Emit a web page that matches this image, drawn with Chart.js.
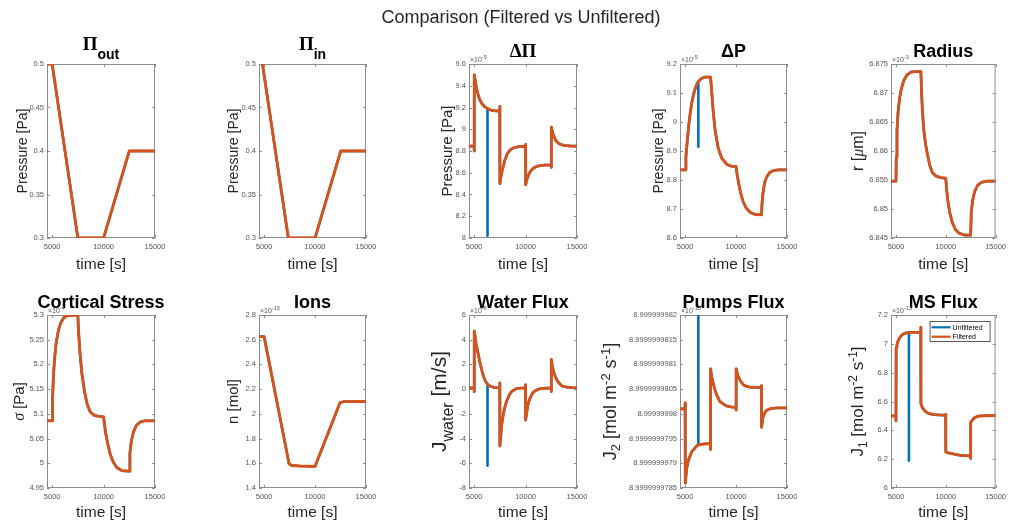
<!DOCTYPE html>
<html>
<head>
<meta charset="utf-8">
<script src="https://cdn.jsdelivr.net/npm/chart.js@4.4.0/dist/chart.umd.min.js"></script>
<style>
  html, body { margin: 0; padding: 0; background: #ffffff; }
  #fig { position: relative; width: 1010px; height: 525px; overflow: hidden; background: #ffffff; }
  #fig canvas { position: absolute; left: 0; top: 0; }
</style>
</head>
<body>
<div id="fig"></div>
<script>
// ---------------- data ----------------
const timeTicks = ['5000', '10000', '15000'];
const timeMin = 4500, timeMax = 15000;

// Osmotic pressure outside
const piOutT = [4500, 5000, 7500, 10000, 12500, 15000];
const piOutV = [0.5, 0.5, 0.3, 0.3, 0.4, 0.4];
const piOutTicks = ['0.3', '0.35', '0.4', '0.45', '0.5'];

// Osmotic pressure inside
const piInT = [4840, 7380, 10000, 12520, 15000];
const piInV = [0.5, 0.3, 0.3, 0.4, 0.4];
const piInTicks = ['0.3', '0.35', '0.4', '0.45', '0.5'];

// Osmotic pressure difference (x1e-5)
const dPiT = [4500, 4990, 5000, 5020, 5100, 5200, 5350, 5550, 5800, 6050, 6300, 6600, 7000, 7485, 7495, 7510, 7580, 7680, 7830, 8000, 8200, 8450, 8750, 9150, 9600, 9990, 10000, 10020, 10100, 10250, 10450, 10700, 11000, 11400, 11900, 12485, 12495, 12510, 12600, 12750, 12950, 13200, 13500, 13900, 14400, 15000];
const dPiV = [8.845, 8.845, 8.80, 9.50, 9.45, 9.39, 9.33, 9.27, 9.23, 9.205, 9.19, 9.177, 9.17, 9.167, 9.21, 8.50, 8.55, 8.60, 8.66, 8.72, 8.77, 8.805, 8.826, 8.837, 8.842, 8.843, 8.86, 8.49, 8.53, 8.57, 8.61, 8.638, 8.655, 8.666, 8.671, 8.673, 8.65, 9.02, 8.98, 8.935, 8.895, 8.87, 8.857, 8.849, 8.846, 8.845];
const dPiSpikeT = [6300, 6300, 6300];
const dPiSpikeV = [9.19, 8.02, 9.19];
const dPiTicks = ['8', '8.2', '8.4', '8.6', '8.8', '9', '9.2', '9.4', '9.6'];

// Hydrostatic pressure difference (x1e-5)
const dPT = [4500, 5000, 5080, 5200, 5350, 5500, 5700, 5900, 6150, 6300, 6600, 7000, 7500, 7600, 7750, 7950, 8250, 8600, 9100, 9500, 10000, 10100, 10250, 10450, 10700, 11000, 11400, 11900, 12500, 12550, 12650, 12800, 13000, 13300, 13700, 14200, 15000];
const dPV = [8.835, 8.835, 8.88, 8.93, 8.985, 9.03, 9.075, 9.105, 9.13, 9.14, 9.15, 9.155, 9.155, 9.11, 9.04, 8.97, 8.91, 8.875, 8.854, 8.848, 8.846, 8.82, 8.79, 8.755, 8.725, 8.703, 8.688, 8.681, 8.68, 8.72, 8.757, 8.79, 8.81, 8.826, 8.833, 8.835, 8.835];
const dPSpikeT = [6300, 6300, 6300];
const dPSpikeV = [9.14, 8.915, 9.14];
const dPTicks = ['8.6', '8.7', '8.8', '8.9', '9', '9.1', '9.2'];

// Radius (x1e-3)
const radT = [4500, 5000, 5030, 5100, 5200, 5350, 5550, 5800, 6100, 6500, 7000, 7500, 7560, 7650, 7800, 7970, 8150, 8400, 8650, 9000, 9500, 10000, 10080, 10200, 10400, 10650, 10950, 11350, 11900, 12500, 12560, 12700, 12900, 13200, 13600, 14100, 15000];
const radV = [6.8548, 6.8548, 6.859, 6.8635, 6.8665, 6.869, 6.8708, 6.8722, 6.8731, 6.8736, 6.8737, 6.8737, 6.8705, 6.867, 6.8635, 6.8612, 6.8595, 6.8575, 6.8563, 6.8557, 6.8554, 6.8553, 6.8535, 6.8515, 6.8494, 6.8477, 6.8465, 6.8458, 6.8455, 6.8455, 6.8495, 6.8515, 6.853, 6.8541, 6.8546, 6.8548, 6.8548];
const radTicks = ['6.845', '6.85', '6.855', '6.86', '6.865', '6.87', '6.875'];

// Cortical stress (x1e-4)
const stressT = [4500, 5000, 5040, 5120, 5250, 5400, 5600, 5850, 6150, 6500, 7000, 7500, 7560, 7700, 7900, 8150, 8400, 8700, 9100, 9500, 10000, 10080, 10200, 10400, 10650, 10950, 11300, 11800, 12500, 12560, 12700, 12900, 13200, 13600, 14000, 15000];
const stressV = [5.086, 5.086, 5.13, 5.175, 5.215, 5.245, 5.268, 5.285, 5.295, 5.299, 5.2995, 5.2995, 5.27, 5.225, 5.18, 5.145, 5.12, 5.104, 5.097, 5.095, 5.094, 5.08, 5.062, 5.04, 5.018, 5.002, 4.991, 4.985, 4.984, 5.02, 5.045, 5.063, 5.077, 5.084, 5.086, 5.086];
const stressTicks = ['4.95', '5', '5.05', '5.1', '5.15', '5.2', '5.25', '5.3'];

// Ions (x1e-13)
const ionT = [4500, 5000, 7450, 7700, 8500, 10000, 12450, 12800, 15000];
const ionV = [2.625, 2.625, 1.597, 1.582, 1.578, 1.575, 2.09, 2.099, 2.1];
const ionTicks = ['1.4', '1.6', '1.8', '2', '2.2', '2.4', '2.6', '2.8'];

// Water flux (x1e-8)
const waterT = [4500, 4990, 5000, 5020, 5100, 5200, 5380, 5550, 5700, 5850, 6030, 6200, 6300, 6360, 6600, 7000, 7485, 7495, 7510, 7580, 7660, 7770, 7890, 8020, 8150, 8400, 8640, 9130, 9600, 9985, 9995, 10010, 10100, 10200, 10320, 10440, 10600, 10760, 11000, 11250, 11700, 12060, 12485, 12495, 12510, 12600, 12720, 12870, 13040, 13250, 13530, 14020, 14500, 15000];
const waterV = [0.1, 0.1, -0.2, 4.7, 4.2, 3.6, 2.9, 2.2, 1.69, 1.2, 0.75, 0.5, 0.42, 0.35, 0.22, 0.13, 0.1, 0.5, -4.6, -3.9, -3.0, -2.35, -1.8, -1.35, -1.0, -0.5, -0.19, 0.05, 0.09, 0.1, 0.35, -2.5, -1.95, -1.4, -1.0, -0.73, -0.45, -0.25, -0.1, 0.0, 0.06, 0.08, 0.1, -0.2, 2.4, 1.9, 1.42, 1.05, 0.75, 0.5, 0.26, 0.16, 0.12, 0.1];
const waterSpikeT = [6300, 6300, 6300];
const waterSpikeV = [0.42, -6.2, 0.42];
const waterTicks = ['-8', '-6', '-4', '-2', '0', '2', '4', '6'];

// Pumps flux (x1e-13)
const pumpT = [4500, 4990, 5000, 5020, 5150, 5320, 5640, 6130, 6300, 6790, 7485, 7495, 7505, 7600, 7760, 7920, 8090, 8410, 8750, 9070, 9500, 9990, 10000, 10010, 10150, 10370, 10700, 11000, 11350, 12485, 12495, 12505, 12650, 12800, 12980, 13200, 13470, 14000, 15000];
const pumpV = [8.9999999801, 8.9999999801, 8.99999998022, 8.9999999786, 8.99999997889, 8.99999997906, 8.99999997923, 8.99999997935, 8.99999997937, 8.99999997939, 8.9999999794, 8.99999997928, 8.99999998091, 8.99999998076, 8.99999998062, 8.99999998049, 8.99999998039, 8.99999998025, 8.9999999802, 8.99999998016, 8.99999998014, 8.99999998013, 8.99999998008, 8.99999998091, 8.99999998079, 8.99999998069, 8.99999998059, 8.99999998056, 8.99999998054, 8.99999998053, 8.99999998057, 8.99999997973, 8.99999997994, 8.99999998001, 8.99999998007, 8.99999998009, 8.99999998011, 8.99999998012, 8.99999998012];
const pumpSpikeT = [6300, 6300, 6300];
const pumpSpikeV = [8.99999997937, 8.99999998198, 8.99999997937];
const pumpTicks = ['8.9999999785', '8.999999979', '8.9999999795', '8.99999998', '8.9999999805', '8.999999981', '8.9999999815', '8.999999982'];

// Mechanosensitive flux (x1e-13)
const msT = [4500, 4990, 5000, 5020, 5100, 5210, 5350, 5540, 5800, 6020, 6300, 6670, 7485, 7495, 7510, 7600, 7700, 7830, 7970, 8200, 8450, 8850, 9260, 9985, 9995, 10010, 10150, 10390, 10650, 10880, 11200, 11530, 12000, 12340, 12485, 12495, 12510, 12650, 12830, 13050, 13310, 13800, 15000];
const msV = [6.5, 6.5, 6.465, 6.975, 6.995, 7.02, 7.04, 7.058, 7.07, 7.076, 7.078, 7.08, 7.08, 7.115, 6.585, 6.565, 6.553, 6.54, 6.53, 6.52, 6.514, 6.509, 6.507, 6.505, 6.51, 6.25, 6.245, 6.242, 6.238, 6.235, 6.23, 6.226, 6.224, 6.223, 6.222, 6.205, 6.455, 6.47, 6.484, 6.493, 6.499, 6.501, 6.502];
const msSpikeT = [6300, 6300, 6300];
const msSpikeV = [7.078, 6.19, 7.078];
const msTicks = ['6', '6.2', '6.4', '6.6', '6.8', '7', '7.2'];

const seriesNames = ['Unfiltered', 'Filtered'];

// ---------------- styling / layout ----------------
const SANS = '"Liberation Sans", Arial, Helvetica, sans-serif';
const SERIF = '"Liberation Serif", "Times New Roman", serif';
const BLUE = '#0072BD';
const ORANGE = '#D95319';
const AXIS_GREY = '#8c8c8c';
const TICK_TEXT = '#555555';
const LABEL_TEXT = '#262626';
const W = 1010, H = 525;
const COLS = [[47, 155], [259, 366], [469, 577], [680, 787], [891, 999]];
const ROWS = [[64, 238], [315, 488]];
const XH = 16;

function run(text, font, dy) { return { text: text, font: font, dy: dy || 0 }; }

function jLabel(sub, big, small) {
  return [
    run('J', big + 'px ' + SANS),
    run(sub, small + 'px ' + SANS, 4),
    run(' [mol m', big + 'px ' + SANS),
    run('-2', small + 'px ' + SANS, -6),
    run(' s', big + 'px ' + SANS),
    run('-1', small + 'px ' + SANS, -6),
    run(']', big + 'px ' + SANS)
  ];
}

const panels = [
  { col: 0, row: 0, t: piOutT, v: piOutV, ticks: piOutTicks, exp: null,
    title: [run('\u03A0', 'bold 19px ' + SERIF), run('out', 'bold 14px ' + SANS, 9)], sub: true,
    ylabel: [run('Pressure [Pa]', '14px ' + SANS)], yOff: 20, mainTitle: true },
  { col: 1, row: 0, t: piInT, v: piInV, ticks: piInTicks, exp: null,
    title: [run('\u03A0', 'bold 19px ' + SERIF), run('in', 'bold 14px ' + SANS, 9)], sub: true,
    ylabel: [run('Pressure [Pa]', '14px ' + SANS)], yOff: 21.5 },
  { col: 2, row: 0, t: dPiT, v: dPiV, spikeT: dPiSpikeT, spikeV: dPiSpikeV, ticks: dPiTicks, exp: '-5',
    title: [run('\u0394\u03A0', 'bold 19px ' + SERIF)],
    ylabel: [run('Pressure [Pa]', '15px ' + SANS)], yOff: 17 },
  { col: 3, row: 0, t: dPT, v: dPV, spikeT: dPSpikeT, spikeV: dPSpikeV, ticks: dPTicks, exp: '-5',
    title: [run('\u0394P', 'bold 18px ' + SANS)],
    ylabel: [run('Pressure [Pa]', '14px ' + SANS)], yOff: 17.5 },
  { col: 4, row: 0, t: radT, v: radV, ticks: radTicks, exp: '-3',
    title: [run('Radius', 'bold 18px ' + SANS)],
    ylabel: [run('r [', '16px ' + SANS), run('\u03BC', 'italic 16px ' + SERIF), run('m]', '16px ' + SANS)], yOff: 28 },
  { col: 0, row: 1, t: stressT, v: stressV, ticks: stressTicks, exp: '-4',
    title: [run('Cortical Stress', 'bold 18px ' + SANS)],
    ylabel: [run('\u03C3', 'italic 16px ' + SERIF), run(' [Pa]', '15px ' + SANS)], yOff: 23.5 },
  { col: 1, row: 1, t: ionT, v: ionV, ticks: ionTicks, exp: '-13',
    title: [run('Ions', 'bold 18px ' + SANS)],
    ylabel: [run('n [mol]', '15px ' + SANS)], yOff: 21.5 },
  { col: 2, row: 1, t: waterT, v: waterV, spikeT: waterSpikeT, spikeV: waterSpikeV, ticks: waterTicks, exp: '-8',
    title: [run('Water Flux', 'bold 18px ' + SANS)],
    ylabel: [run('J', '21px ' + SANS), run('water', '16px ' + SANS, 7), run(' [m/s]', '21px ' + SANS)], yOff: 23 },
  { col: 3, row: 1, t: pumpT, v: pumpV, spikeT: pumpSpikeT, spikeV: pumpSpikeV, ticks: pumpTicks, exp: '-13',
    title: [run('Pumps Flux', 'bold 18px ' + SANS)],
    ylabel: jLabel('2', 18, 13), yOff: 64 },
  { col: 4, row: 1, t: msT, v: msV, spikeT: msSpikeT, spikeV: msSpikeV, ticks: msTicks, exp: '-13',
    title: [run('MS Flux', 'bold 18px ' + SANS)],
    ylabel: jLabel('1', 17, 12), yOff: 28, legend: true }
];

// ---------------- drawing helpers ----------------
function drawRuns(ctx, runs, x, y, align) {
  let total = 0;
  const widths = runs.map(function (r) {
    ctx.font = r.font;
    const w = ctx.measureText(r.text).width;
    total += w;
    return w;
  });
  let cx = align === 'center' ? x - total / 2 : (align === 'right' ? x - total : x);
  ctx.textAlign = 'left';
  ctx.textBaseline = 'alphabetic';
  runs.forEach(function (r, i) {
    ctx.font = r.font;
    ctx.fillText(r.text, cx, y + r.dy);
    cx += widths[i];
  });
}

function decorPlugin(p) {
  return {
    id: 'decor',
    beforeDatasetsDraw(chart) {
      const ctx = chart.ctx, a = chart.chartArea;
      const xs = chart.scales.x, ys = chart.scales.y;
      ctx.save();
      ctx.strokeStyle = AXIS_GREY;
      ctx.lineWidth = 1;
      ctx.strokeRect(a.left + 0.5, a.top + 0.5, a.right - a.left - 1, a.bottom - a.top - 1);
      const tl = 3;
      ctx.beginPath();
      ys.ticks.forEach(function (tk) {
        const py = Math.round(ys.getPixelForValue(tk.value)) + 0.5;
        ctx.moveTo(a.left, py); ctx.lineTo(a.left + tl, py);
        ctx.moveTo(a.right, py); ctx.lineTo(a.right - tl, py);
      });
      xs.ticks.forEach(function (tk) {
        const px = Math.round(xs.getPixelForValue(tk.value)) + 0.5;
        ctx.moveTo(px, a.bottom); ctx.lineTo(px, a.bottom - tl);
        ctx.moveTo(px, a.top); ctx.lineTo(px, a.top + tl);
      });
      ctx.stroke();
      ctx.restore();
    },
    afterDraw(chart) {
      const ctx = chart.ctx, a = chart.chartArea;
      const cx = (a.left + a.right) / 2, cy = (a.top + a.bottom) / 2;
      ctx.save();
      // panel title
      ctx.fillStyle = '#000000';
      drawRuns(ctx, p.title, cx, p.sub ? a.top - 14.5 : a.top - 7, 'center');
      // time label
      ctx.fillStyle = LABEL_TEXT;
      drawRuns(ctx, [run('time [s]', '15.5px ' + SANS)], cx, a.bottom + (p.row === 0 ? 30.5 : 28.5), 'center');
      // value label, rotated
      ctx.save();
      ctx.translate(a.left - p.yOff, cy);
      ctx.rotate(-Math.PI / 2);
      drawRuns(ctx, p.ylabel, 0, 0, 'center');
      ctx.restore();
      // exponent of the value axis
      if (p.exp) {
        ctx.fillStyle = TICK_TEXT;
        drawRuns(ctx, [run('\u00D710', '7px ' + SANS), run(p.exp, '5.5px ' + SANS, -3)], a.left + 1, a.top - 2.5, 'left');
      }
      // figure title
      if (p.mainTitle) {
        ctx.fillStyle = LABEL_TEXT;
        drawRuns(ctx, [run('Comparison (Filtered vs Unfiltered)', '18px ' + SANS)], 521, 22.5, 'center');
      }
      // legend box
      if (p.legend) {
        const bx = a.right - 66, by = a.top + 6, bw = 61, bh = 21;
        ctx.fillStyle = '#ffffff';
        ctx.fillRect(bx, by, bw, bh);
        ctx.strokeStyle = '#333333';
        ctx.lineWidth = 0.8;
        ctx.strokeRect(bx + 0.5, by + 0.5, bw - 1, bh - 1);
        chart.data.datasets.forEach(function (ds, i) {
          const ly = by + 6.3 + i * 9.4;
          ctx.strokeStyle = ds.borderColor;
          ctx.lineWidth = 2.2;
          ctx.beginPath();
          ctx.moveTo(bx + 2, ly); ctx.lineTo(bx + 21, ly);
          ctx.stroke();
          ctx.fillStyle = '#000000';
          ctx.font = '7px ' + SANS;
          ctx.textAlign = 'left';
          ctx.textBaseline = 'middle';
          ctx.fillText(ds.label, bx + 23, ly + 0.5);
        });
      }
      ctx.restore();
    }
  };
}

function points(t, v) {
  return t.map(function (x, i) { return { x: x, y: v[i] }; });
}

// ---------------- build the panels ----------------
const fig = document.getElementById('fig');
const timeVals = timeTicks.map(Number);

panels.forEach(function (p) {
  const axL = COLS[p.col][0], axR = COLS[p.col][1];
  const axT = ROWS[p.row][0], axB = ROWS[p.row][1];
  const yVals = p.ticks.map(Number);
  const yw = Math.min(axL, 70);

  const filtered = points(p.t, p.v);
  let unfiltered = filtered;
  if (p.spikeT) {
    const s0 = p.spikeT[0], s1 = p.spikeT[p.spikeT.length - 1];
    unfiltered = filtered.filter(function (pt) { return pt.x < s0; })
      .concat(points(p.spikeT, p.spikeV))
      .concat(filtered.filter(function (pt) { return pt.x > s1; }));
  }

  const canvas = document.createElement('canvas');
  canvas.width = W; canvas.height = H;
  fig.appendChild(canvas);

  const tickFont = { family: SANS, size: 7.5 };

  new Chart(canvas, {
    type: 'line',
    data: {
      datasets: [
        { label: seriesNames[0], data: unfiltered, borderColor: BLUE, backgroundColor: BLUE,
          borderWidth: 2.6, order: 1, pointRadius: 0, tension: 0, borderJoinStyle: 'round', fill: false },
        { label: seriesNames[1], data: filtered, borderColor: ORANGE, backgroundColor: ORANGE,
          borderWidth: 2.8, order: 0, pointRadius: 0, tension: 0, borderJoinStyle: 'round', fill: false }
      ]
    },
    options: {
      responsive: false,
      animation: false,
      devicePixelRatio: 1,
      events: [],
      layout: { padding: { left: axL - yw, right: W - axR, top: axT, bottom: H - axB - XH } },
      plugins: { legend: { display: false }, tooltip: { enabled: false }, title: { display: false } },
      scales: {
        x: {
          type: 'linear', min: timeMin, max: timeMax,
          grid: { display: false, drawTicks: false }, border: { display: false },
          afterFit: function (s) { s.height = XH; },
          afterBuildTicks: function (s) { s.ticks = timeVals.map(function (v) { return { value: v }; }); },
          ticks: { autoSkip: false, maxRotation: 0, padding: 4, font: tickFont, color: TICK_TEXT,
                   callback: function (v, i) { return timeTicks[i]; } }
        },
        y: {
          type: 'linear', min: yVals[0], max: yVals[yVals.length - 1],
          grid: { display: false, drawTicks: false }, border: { display: false },
          afterFit: function (s) { s.width = yw; },
          afterBuildTicks: function (s) { s.ticks = yVals.map(function (v) { return { value: v }; }); },
          ticks: { autoSkip: false, padding: 3, font: tickFont, color: TICK_TEXT,
                   callback: function (v, i) { return p.ticks[i]; } }
        }
      }
    },
    plugins: [decorPlugin(p)]
  });
});
</script>
</body>
</html>
